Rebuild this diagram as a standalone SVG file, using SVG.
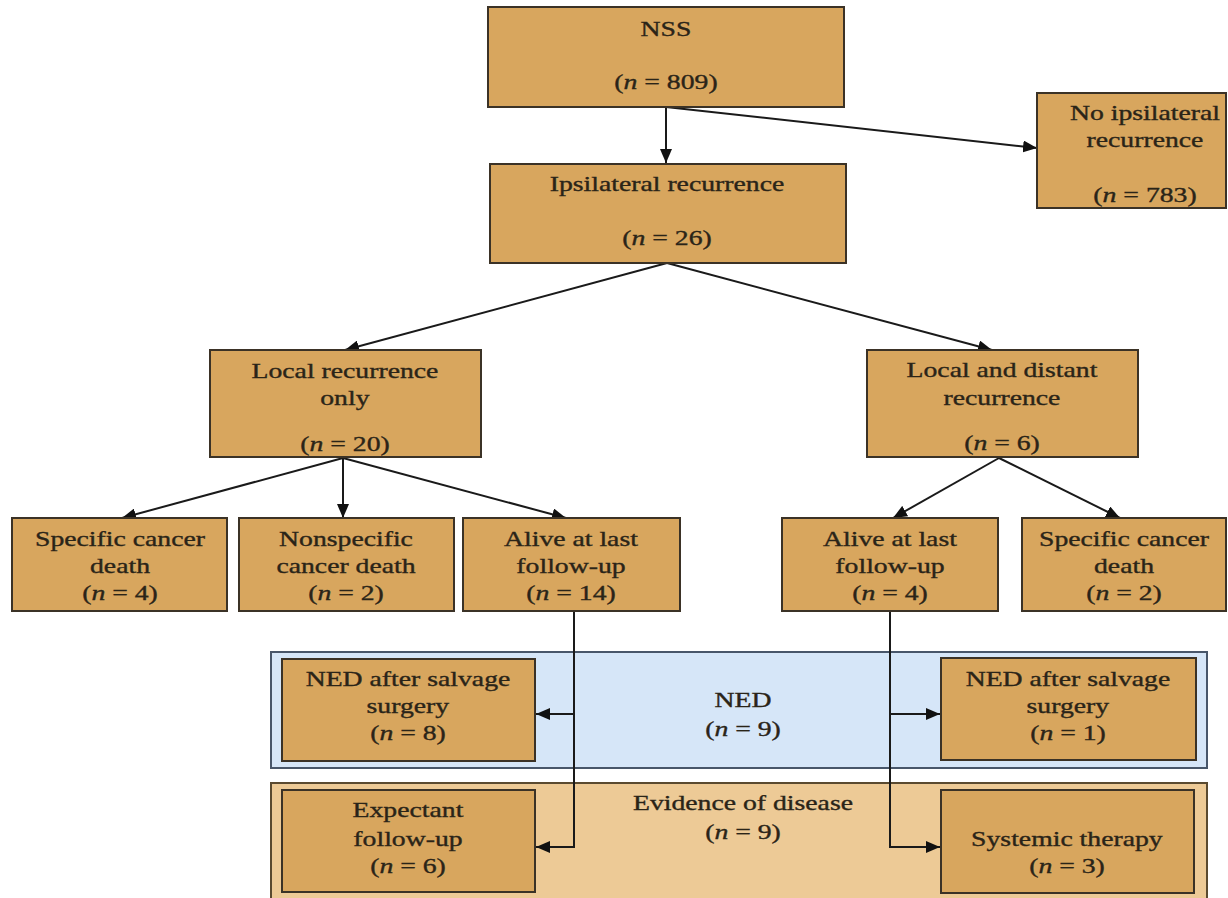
<svg xmlns="http://www.w3.org/2000/svg" width="1228" height="898" viewBox="0 0 1228 898">
<style>
.box{fill:#D8A65E;stroke:#3b3226;stroke-width:2}
.ned{fill:#D6E6F8;stroke:#48566a;stroke-width:2}
.eod{fill:#EDCA96;stroke:#5a4a30;stroke-width:2}
text{font-family:"Liberation Serif","Times New Roman",serif;font-size:21px;fill:#2a2418;stroke:#2a2418;stroke-width:0.35;text-anchor:middle;transform-box:fill-box;transform-origin:center;transform:scaleX(1.32)}
.i{font-style:italic}
.c{fill:none;stroke:#1a1a1a;stroke-width:2}
</style>
<defs>
<marker id="ah" viewBox="0 0 14 12" refX="14" refY="6" markerWidth="14" markerHeight="12" markerUnits="userSpaceOnUse" orient="auto">
<path d="M0,0 L14,6 L0,12 z" fill="#111"/>
</marker>
</defs>
<rect width="1228" height="898" fill="#fff"/>
<g id="panel-ned"><rect class="ned" x="271" y="652" width="936" height="116"/><text x="743" y="707">NED</text><text x="743" y="736">(<tspan class="i">n</tspan> = 9)</text></g>
<g id="panel-eod"><rect class="eod" x="271" y="783" width="936" height="125"/><text x="743" y="810">Evidence of disease</text><text x="743" y="839">(<tspan class="i">n</tspan> = 9)</text></g>
<g id="connectors">
<line class="c" x1="666" y1="107" x2="666" y2="163" marker-end="url(#ah)"/>
<line class="c" x1="666" y1="107" x2="1037" y2="148" marker-end="url(#ah)"/>
<line class="c" x1="667" y1="263" x2="345" y2="350" marker-end="url(#ah)"/>
<line class="c" x1="667" y1="263" x2="992" y2="350" marker-end="url(#ah)"/>
<line class="c" x1="343" y1="458" x2="122" y2="518" marker-end="url(#ah)"/>
<line class="c" x1="343" y1="458" x2="343" y2="518" marker-end="url(#ah)"/>
<line class="c" x1="343" y1="458" x2="566" y2="518" marker-end="url(#ah)"/>
<line class="c" x1="999" y1="458" x2="893" y2="518" marker-end="url(#ah)"/>
<line class="c" x1="999" y1="458" x2="1120" y2="518" marker-end="url(#ah)"/>
<polyline class="c" points="574,611 574,847 536,847" marker-end="url(#ah)"/>
<line class="c" x1="574" y1="714" x2="536" y2="714" marker-end="url(#ah)"/>
<polyline class="c" points="890,611 890,847 940,847" marker-end="url(#ah)"/>
<line class="c" x1="890" y1="714" x2="940" y2="714" marker-end="url(#ah)"/>
</g>
<g id="nss"><rect class="box" x="488" y="7" width="356" height="100"/><text x="666" y="36">NSS</text><text x="666" y="89">(<tspan class="i">n</tspan> = 809)</text></g>
<g id="no-ipsi"><rect class="box" x="1037" y="93" width="189" height="115"/><text x="1145" y="120">No ipsilateral</text><text x="1145" y="147">recurrence</text><text x="1145" y="202">(<tspan class="i">n</tspan> = 783)</text></g>
<g id="ipsi"><rect class="box" x="490" y="164" width="356" height="99"/><text x="667" y="191">Ipsilateral recurrence</text><text x="667" y="245">(<tspan class="i">n</tspan> = 26)</text></g>
<g id="local-only"><rect class="box" x="210" y="350" width="271" height="107"/><text x="345" y="378">Local recurrence</text><text x="345" y="405">only</text><text x="345" y="451">(<tspan class="i">n</tspan> = 20)</text></g>
<g id="local-distant"><rect class="box" x="867" y="350" width="271" height="107"/><text x="1002" y="377">Local and distant</text><text x="1002" y="405">recurrence</text><text x="1002" y="450">(<tspan class="i">n</tspan> = 6)</text></g>
<g id="spec-death-l"><rect class="box" x="12" y="518" width="215" height="93"/><text x="120" y="546">Specific cancer</text><text x="120" y="573">death</text><text x="120" y="600">(<tspan class="i">n</tspan> = 4)</text></g>
<g id="nonspec-death"><rect class="box" x="239" y="518" width="215" height="93"/><text x="346" y="546">Nonspecific</text><text x="346" y="573">cancer death</text><text x="346" y="600">(<tspan class="i">n</tspan> = 2)</text></g>
<g id="alive-l"><rect class="box" x="463" y="518" width="217" height="93"/><text x="571" y="546">Alive at last</text><text x="571" y="573">follow-up</text><text x="571" y="600">(<tspan class="i">n</tspan> = 14)</text></g>
<g id="alive-r"><rect class="box" x="782" y="518" width="216" height="93"/><text x="890" y="546">Alive at last</text><text x="890" y="573">follow-up</text><text x="890" y="600">(<tspan class="i">n</tspan> = 4)</text></g>
<g id="spec-death-r"><rect class="box" x="1022" y="518" width="204" height="93"/><text x="1124" y="546">Specific cancer</text><text x="1124" y="573">death</text><text x="1124" y="600">(<tspan class="i">n</tspan> = 2)</text></g>
<g id="ned-salvage-l"><rect class="box" x="282" y="659" width="253" height="102"/><text x="408" y="686">NED after salvage</text><text x="408" y="713">surgery</text><text x="408" y="740">(<tspan class="i">n</tspan> = 8)</text></g>
<g id="ned-salvage-r"><rect class="box" x="941" y="658" width="255" height="102"/><text x="1068" y="686">NED after salvage</text><text x="1068" y="713">surgery</text><text x="1068" y="740">(<tspan class="i">n</tspan> = 1)</text></g>
<g id="expectant"><rect class="box" x="282" y="790" width="253" height="102"/><text x="408" y="817">Expectant</text><text x="408" y="846">follow-up</text><text x="408" y="873">(<tspan class="i">n</tspan> = 6)</text></g>
<g id="systemic"><rect class="box" x="941" y="790" width="253" height="103"/><text x="1067" y="846">Systemic therapy</text><text x="1067" y="873">(<tspan class="i">n</tspan> = 3)</text></g>
</svg>
